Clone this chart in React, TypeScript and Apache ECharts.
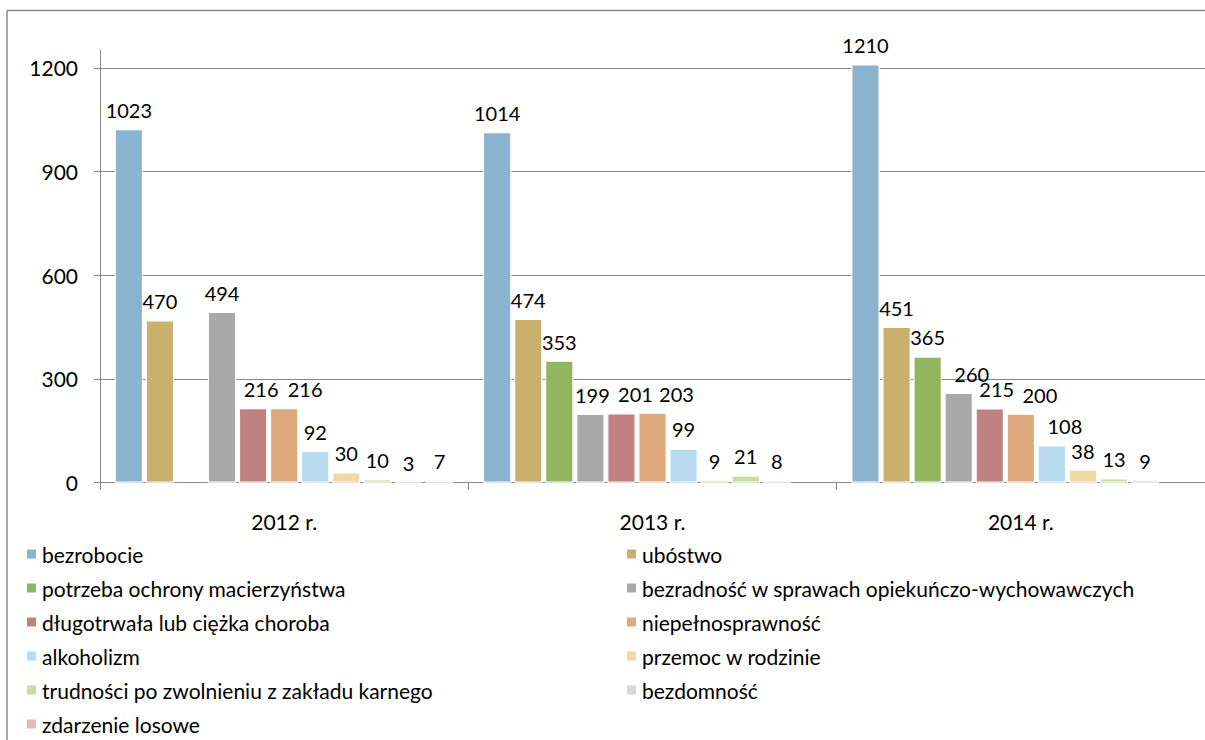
import React, { useEffect, useRef } from "react";
import * as echarts from "echarts";

const categories = ["2012 r.", "2013 r.", "2014 r."];
const seriesNames = [
  "bezrobocie",
  "ubóstwo",
  "potrzeba ochrony macierzyństwa",
  "bezradność w sprawach opiekuńczo-wychowawczych",
  "długotrwała lub ciężka choroba",
  "niepełnosprawność",
  "alkoholizm",
  "przemoc w rodzinie",
  "trudności po zwolnieniu z zakładu karnego",
  "bezdomność",
  "zdarzenie losowe",
];
const bezrobocie = [1023, 1014, 1210];
const ubostwo = [470, 474, 451];
const potrzebaOchrony = [null, 353, 365];
const bezradnosc = [494, 199, 260];
const dlugotrwalaChoroba = [216, 201, 215];
const niepelnosprawnosc = [216, 203, 200];
const alkoholizm = [92, 99, 108];
const przemoc = [30, 9, 38];
const trudnosci = [10, 21, 13];
const bezdomnosc = [3, 8, 9];
const zdarzenieLosowe = [7, null, null];
const yTicks = [0, 300, 600, 900, 1200];

const seriesValues = [
  bezrobocie,
  ubostwo,
  potrzebaOchrony,
  bezradnosc,
  dlugotrwalaChoroba,
  niepelnosprawnosc,
  alkoholizm,
  przemoc,
  trudnosci,
  bezdomnosc,
  zdarzenieLosowe,
];
const colors = [
  "#8AB3CF",
  "#C9B06C",
  "#92B65E",
  "#A9A9A9",
  "#C08280",
  "#DEA97C",
  "#B9DBEF",
  "#EFD8A2",
  "#C4DE9F",
  "#D6D6D6",
  "#E8B7B7",
];
// manual horizontal nudges of data labels (px), as in the original chart
const labelNudgeX: Record<number, number[]> = {
  3: [0, 2, 13],
  4: [8, 14, 7],
  5: [21, 24, 19],
  6: [0, 0, 13],
};

const FONT = "Lato, 'Open Sans', sans-serif";

export default function App() {
  const ref = useRef<HTMLDivElement>(null);
  useEffect(() => {
    if (!ref.current) return;
    const chart = echarts.init(ref.current, undefined, { renderer: "svg" });
    const legendCommon = {
      orient: "vertical",
      top: 543,
      height: 200,
      padding: 0,
      itemWidth: 11,
      itemHeight: 11,
      itemGap: 12,
      icon: "rect",
      textStyle: { fontSize: 21, lineHeight: 22, fontFamily: FONT, color: "#000" },
    };
    chart.setOption({
      animation: false,
      backgroundColor: "#fff",
      color: colors,
      textStyle: { fontFamily: FONT },
      grid: { left: 100, top: 50.5, width: 1113, height: 432.2, containLabel: false },
      legend: [
        { ...legendCommon, left: 25, data: seriesNames.filter((_, i) => i % 2 === 0) },
        { ...legendCommon, left: 625, data: seriesNames.filter((_, i) => i % 2 === 1) },
      ],
      xAxis: {
        type: "category",
        data: categories,
        axisLine: { lineStyle: { color: "#868686", width: 1 } },
        axisTick: { show: true, length: 7, lineStyle: { color: "#868686" } },
        axisLabel: { fontSize: 21, color: "#000", fontFamily: FONT, margin: 28 },
      },
      yAxis: {
        type: "value",
        min: 0,
        max: 1250,
        interval: 300,
        axisLine: { show: true, lineStyle: { color: "#868686", width: 1 } },
        axisTick: { show: true, length: 6, customValues: yTicks, lineStyle: { color: "#868686" } },
        axisLabel: {
          fontSize: 21,
          color: "#000",
          fontFamily: FONT,
          margin: 22,
          customValues: yTicks,
          formatter: (v: number) => (v % 300 === 0 ? String(v) : ""),
        },
        splitLine: { show: true, lineStyle: { color: "#868686", width: 1 } },
      },
      series: seriesNames.map((name, i) => ({
        name,
        type: "bar",
        data: seriesValues[i].map((v, j) => {
          if (v === null) return "-";
          const dx = labelNudgeX[i] ? labelNudgeX[i][j] : 0;
          return dx ? { value: v, label: { offset: [dx, 0] } } : v;
        }),
        barWidth: 28.5,
        barGap: "9%",
        itemStyle: { color: colors[i], borderColor: "#fff", borderWidth: 1.2 },
        label: {
          show: true,
          position: "top",
          distance: 9,
          fontSize: 20,
          color: "#000",
          fontFamily: FONT,
        },
      })),
      graphic: [
        {
          type: "line",
          shape: { x1: 7, y1: 10.5, x2: 1205, y2: 10.5 },
          style: { stroke: "#8a8a8a", lineWidth: 1.5 },
          silent: true,
        },
        {
          type: "line",
          shape: { x1: 7, y1: 10.5, x2: 7, y2: 740 },
          style: { stroke: "#8a8a8a", lineWidth: 1.5 },
          silent: true,
        },
      ],
    });
    return () => chart.dispose();
  }, []);
  return (
    <div
      ref={ref}
      style={{ position: "absolute", left: 0, top: 0, width: 1205, height: 740 }}
    />
  );
}
